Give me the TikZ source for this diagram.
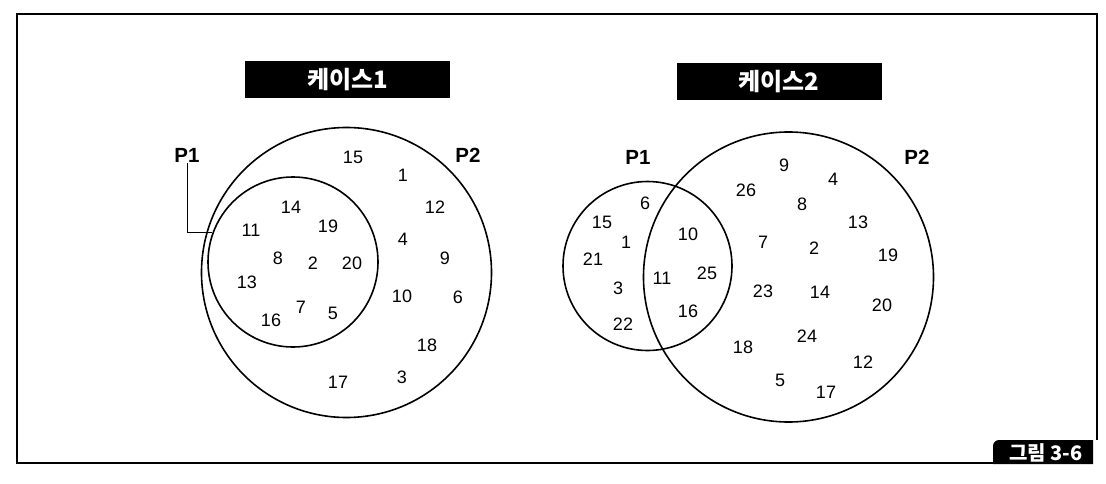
\documentclass[tikz,border=0pt]{standalone}
\usepackage{fontspec}
\setmainfont{Liberation Sans}
\newfontfamily\kr{Noto Sans CJK KR}
\begin{document}
\begin{tikzpicture}[x=1pt,y=-1pt,
  num/.style={font=\fontsize{18}{18}\selectfont, inner sep=0pt},
  lbl/.style={font=\fontsize{20.5}{20.5}\selectfont\bfseries, inner sep=1pt},
  setc/.style={circle, draw, line width=1.6pt, inner sep=0pt},
  titlebox/.style={fill=black, text=white, font=\kr\fontsize{24}{24}\selectfont\bfseries, minimum width=205pt, minimum height=37pt, inner sep=0pt},
  link/.style={line width=1pt}]
\useasboundingbox (0,0) rectangle (1106,484);
\fill[white] (0,0) rectangle (1106,484);
% frame
\draw[line width=1.4pt] (993,463) -- (17,463) -- (17,14) -- (1097,14) -- (1097,440);
% figure label
\fill[black] (993,464) -- (993,446) to[out=90,in=180] (999,440) -- (1093,440) -- (1093,464) -- cycle;
\node[text=white, font=\kr\fontsize{20}{20}\selectfont\bfseries, inner sep=0pt] (fig) at (1046,453) {그림 3-6};

% ===== Case 1 =====
\node[titlebox] (t1) at (347.5,80) {케이스1};
\node[setc, minimum size=290pt] (c1P2) at (346.5,272.5) {};
\node[setc, minimum size=170pt] (c1P1) at (293,262) {};
\node[lbl] (c1l1) at (187,155) {P1};
\node[lbl] (c1l2) at (468,155) {P2};
\draw[link] (c1l1.south) |- (c1P1.160);
\foreach \n/\x/\y in {15/353/157, 1/403/175, 12/435/207, 4/403/239, 9/445/258, 10/402/296, 6/458/297, 18/427/345, 3/402/377, 17/338/382,
  14/291/207, 11/251/230, 19/328/226, 8/278/258, 2/313/263, 20/352/263, 13/247/282, 7/301/307, 5/333/313, 16/271/320}
  \node[num] (c1n\n) at (\x,\y) {\n};

% ===== Case 2 =====
\node[titlebox] (t2) at (779,82) {케이스2};
\node[setc, minimum size=169pt] (c2P1) at (647.5,266) {};
\node[setc, minimum size=290pt] (c2P2) at (788.5,277) {};
\node[lbl] (c2l1) at (638,157) {P1};
\node[lbl] (c2l2) at (917,157) {P2};
\foreach \n/\x/\y in {6/645/203, 15/602/222, 1/626/242, 21/593/259, 3/618/288, 22/623/324,
  10/688/234, 11/662/278, 25/707/273, 16/688/311,
  9/784/165, 4/833/179, 26/746/190, 8/802/204, 13/858/222, 7/763/242, 2/814/248, 19/888/255,
  23/763/291, 14/820/292, 20/882/305, 24/807/336, 18/743/347, 12/863/362, 5/780/380, 17/826/392}
  \node[num] (c2n\n) at (\x,\y) {\n};
\end{tikzpicture}
\end{document}
